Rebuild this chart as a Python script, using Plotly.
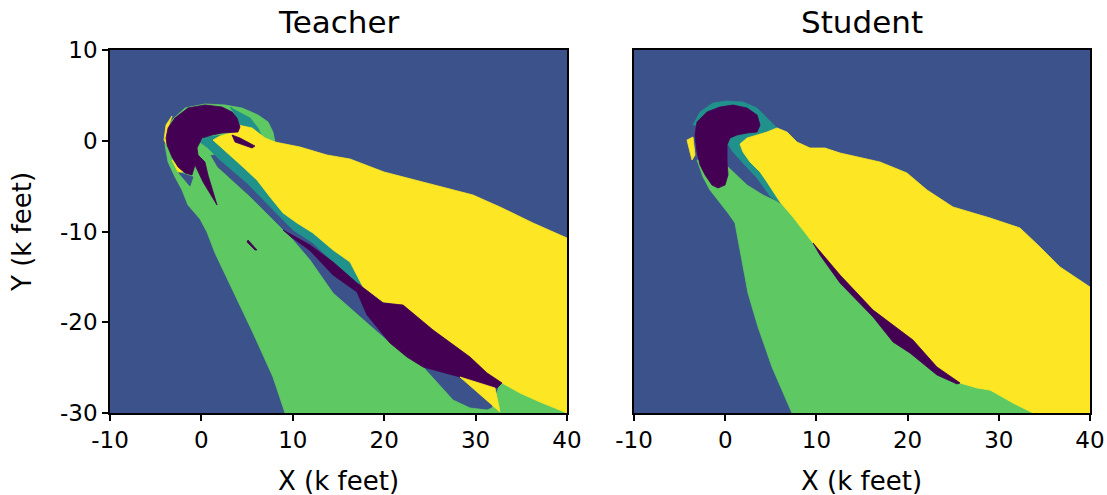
import plotly.graph_objects as go

# ---------------- data (k feet) ----------------
X_TICKS = [-10, 0, 10, 20, 30, 40]
X_TICK_LABELS = ["-10", "0", "10", "20", "30", "40"]
Y_TICKS = [-30, -20, -10, 0, 10]
Y_TICK_LABELS = ["-30", "-20", "-10", "0", "10"]
PANEL_TITLES = ["Teacher", "Student"]

# advisory classes (viridis)
C_PURPLE, C_BLUE, C_TEAL, C_GREEN, C_YELLOW = "#440154", "#3b528b", "#21918c", "#5ec962", "#fde725"

# ---- Teacher regions (polygon outlines) ----
T_GREEN_X = [2.58, 4.44, 6.19, 7.29, 7.83, 8.05, 4.22, 0.94, 1.71, 5.32, 7.51, 10.02, 11.88, 14.40, 18.12,
             20.63, 24.25, 27.53, 29.39, 31.25, 31.79, 32.67, 40, 40, 9.15, 7.83, 5.65, 3.46, 1.49, 0.61,
             -0.15, -1.47, -2.12, -2.89, -3.65, -3.98, -3.87, -3.22, -1.79, 0.39]
T_GREEN_Y = [3.94, 3.61, 2.84, 2.07, 0.96, -0.14, -1.02, -1.57, -2.89, -6.20, -8.40, -10.94, -13.14, -16.78, -20.08,
             -22.29, -24.93, -28.57, -29.45, -29.67, -29.45, -26.69, -26.69, -30, -30, -26.03, -21.18, -16.45, -12.37, -10.06,
             -8.62, -7.08, -5.43, -3.99, -2.34, -0.47, 0.63, 2.29, 3.61, 4.05]

T_BLUE_PATCH_X = [-2.56, -0.92, -1.25]
T_BLUE_PATCH_Y = [-3.44, -3.99, -4.99]

T_TEAL_CRESCENT_X = [3.13, 3.68, 5.32, 6.19, 6.63, 5.32, 4.44, 3.89]
T_TEAL_CRESCENT_Y = [3.72, 3.39, 2.51, 1.41, 0.41, 0.41, 1.41, 2.51]

T_TEAL_STRIP_X = [0.39, 2.58, 19.54, 17.02, 14.40, 12.21, 10.02, 7.18, 4.99, 2.04, 0.72, -0.15]
T_TEAL_STRIP_Y = [0.41, 0.63, -16.45, -15.67, -13.36, -11.27, -9.83, -6.86, -4.66, -2.12, -0.80, -0.14]

T_YELLOW_X = [3.13, 4.00, 5.54, 6.96, 8.05, 10.79, 13.74, 16.26, 19.98, 25.34, 29.72, 32.67, 36.28, 40, 40,
              37.05, 34.86, 32.89, 31.25, 29.39, 25.34, 22.06, 19.87, 17.68, 16.26, 14.40, 12.21, 10.46, 8.93,
              7.51, 6.08, 4.55, 2.80, 1.27, 2.04]
T_YELLOW_Y = [0.85, 1.74, 1.41, 0.30, -0.14, -0.69, -1.57, -2.01, -3.44, -4.88, -5.98, -7.30, -9.06, -10.72, -30,
              -28.79, -27.80, -26.69, -25.59, -23.83, -20.85, -18.10, -17.77, -16.12, -13.36, -12.04, -10.17, -9.06, -7.96,
              -6.20, -4.33, -2.89, -1.35, 0.08, 0.52]

T_YELLOW_RIM_X = [-4.09, -3.87, -3.22, -3.65, -3.76]
T_YELLOW_RIM_Y = [0.08, 1.74, 2.73, 1.41, -0.47]
T_YELLOW_BIT_X = [-3.22, -2.01, -2.56]
T_YELLOW_BIT_Y = [-2.12, -3.44, -3.44]
T_YELLOW_SLIVER_X = [28.29, 32.12, 32.67]
T_YELLOW_SLIVER_Y = [-26.03, -27.24, -29.89]

T_TEAL_SLIVER_X = [3.46, 5.54, 5.32, 3.24]
T_TEAL_SLIVER_Y = [-2.12, -4.10, -4.33, -2.45]

T_PURPLE_CIRCLE_X = [-3.65, -2.89, -1.47, 0.39, 2.25, 3.35, 3.89, 4.22, 4.00, 2.25, 1.16, 0.07, -0.48, -0.37,
                     0.39, 0.72, 1.71, 0.18, -0.70, -1.03, -1.79, -2.56, -3.22, -3.76, -3.87]
T_PURPLE_CIRCLE_Y = [1.41, 2.51, 3.61, 3.94, 3.72, 3.17, 2.51, 1.52, 0.96, 0.85, 0.63, 0.30, -0.80, -1.57,
                     -2.34, -3.77, -7.08, -4.55, -2.67, -3.77, -3.55, -2.89, -1.79, -0.47, 0.30]
T_PURPLE_SPIKE_X = [3.35, 4.22, 5.86, 5.54, 3.68]
T_PURPLE_SPIKE_Y = [0.63, 0.30, -0.58, -0.80, -0.14]
T_PURPLE_STRIP_X = [8.93, 11.88, 14.40, 17.02, 19.87, 22.06, 25.34, 29.39, 31.25, 32.89, 32.34, 28.29,
                    24.25, 22.49, 20.63, 18.12, 17.02, 14.40, 11.88, 9.70]
T_PURPLE_STRIP_Y = [-9.83, -11.49, -13.36, -15.67, -17.88, -18.10, -20.85, -23.83, -25.59, -26.69, -27.24, -26.03,
                    -24.93, -23.83, -22.29, -19.20, -16.67, -14.79, -12.10, -10.50]
T_PURPLE_DOT_X = [5.10, 6.08, 5.86, 4.99]
T_PURPLE_DOT_Y = [-10.94, -12.04, -12.04, -11.16]

# ---- Student regions ----
S_GREEN_X = [-3.09, -1.12, 0.31, 2.39, 4.14, 6.01, 13.68, 34.52, 34.52, 7.32, 5.13, 3.60, 2.50, 1.62, 1.07,
             0.31, -0.79, -1.67, -2.43]
S_GREEN_Y = [-2.12, -2.12, -2.89, -4.88, -5.98, -6.86, -12.04, -26.36, -30, -30, -24.93, -20.52, -16.78, -12.04, -9.06,
             -7.96, -6.53, -5.43, -3.99]

S_TEAL_X = [-3.53, -2.76, -1.34, 0.20, 1.95, 3.49, 4.58, 5.68, 7.11, 6.01, 4.91, 3.49, 1.95, 0.86, 0.31, -0.57]
S_TEAL_Y = [1.74, 3.17, 4.16, 4.38, 4.27, 3.61, 2.51, 1.41, -1.02, -6.86, -6.09, -4.10, -2.45, -1.24, -0.42, 1.74]

S_YELLOW_X = [1.62, 2.39, 3.49, 4.58, 5.68, 6.78, 7.87, 9.30, 10.94, 12.59, 16.97, 19.93, 22.13, 24.98, 29.04,
              32.32, 34.52, 36.71, 40, 40, 33.75, 31.56, 29.04, 27.61, 25.75, 23.22, 20.59, 16.21, 12.59, 9.63,
              7.43, 6.01, 4.58, 3.82, 2.72, 1.95]
S_YELLOW_Y = [-0.36, 0.30, 0.63, 0.96, 1.41, 0.96, -0.14, -0.80, -0.80, -1.35, -2.34, -3.55, -5.43, -7.30, -8.51,
              -9.61, -11.71, -13.91, -16.12, -30, -30, -28.90, -27.47, -27.24, -26.69, -24.93, -21.96, -18.65, -14.79, -11.27,
              -8.40, -6.75, -4.55, -3.44, -2.34, -1.24]

S_YELLOW_RIM_X = [-4.19, -3.53, -3.31, -3.64]
S_YELLOW_RIM_Y = [0.08, 0.41, -1.57, -2.12]

S_PURPLE_BLOB_X = [-3.09, -2.00, -0.57, 0.86, 2.39, 3.49, 3.82, 3.49, 2.39, 1.29, 0.53, 0.20, 0.20, 0.31,
                   -0.02, -0.79, -1.45, -2.21, -2.76, -3.09, -3.31]
S_PURPLE_BLOB_Y = [2.07, 3.17, 3.72, 3.94, 3.61, 2.84, 1.74, 0.96, 0.85, 0.63, 0.30, -0.47, -2.34, -3.77,
                   -4.88, -5.21, -4.88, -3.77, -2.67, -1.24, 0.63]
S_PURPLE_STRIP_X = [9.63, 12.59, 16.21, 20.59, 23.22, 25.75, 25.42, 23.22, 20.26, 18.40, 16.21, 12.59, 10.39]
S_PURPLE_STRIP_Y = [-11.27, -14.79, -18.65, -21.96, -24.93, -26.69, -26.80, -25.81, -23.39, -22.18, -19.42, -15.67, -12.59]

# drawing order (painter's algorithm), per panel
TEACHER_LAYERS = [
    (T_GREEN_X, T_GREEN_Y, C_GREEN),
    (T_BLUE_PATCH_X, T_BLUE_PATCH_Y, C_BLUE),
    (T_TEAL_CRESCENT_X, T_TEAL_CRESCENT_Y, C_TEAL),
    (T_TEAL_STRIP_X, T_TEAL_STRIP_Y, C_TEAL),
    (T_YELLOW_X, T_YELLOW_Y, C_YELLOW),
    (T_YELLOW_RIM_X, T_YELLOW_RIM_Y, C_YELLOW),
    (T_YELLOW_BIT_X, T_YELLOW_BIT_Y, C_YELLOW),
    (T_TEAL_SLIVER_X, T_TEAL_SLIVER_Y, C_TEAL),
    (T_PURPLE_CIRCLE_X, T_PURPLE_CIRCLE_Y, C_PURPLE),
    (T_PURPLE_SPIKE_X, T_PURPLE_SPIKE_Y, C_PURPLE),
    (T_PURPLE_STRIP_X, T_PURPLE_STRIP_Y, C_PURPLE),
    (T_PURPLE_DOT_X, T_PURPLE_DOT_Y, C_PURPLE),
    (T_YELLOW_SLIVER_X, T_YELLOW_SLIVER_Y, C_YELLOW),
]
STUDENT_LAYERS = [
    (S_GREEN_X, S_GREEN_Y, C_GREEN),
    (S_TEAL_X, S_TEAL_Y, C_TEAL),
    (S_YELLOW_X, S_YELLOW_Y, C_YELLOW),
    (S_YELLOW_RIM_X, S_YELLOW_RIM_Y, C_YELLOW),
    (S_PURPLE_BLOB_X, S_PURPLE_BLOB_Y, C_PURPLE),
    (S_PURPLE_STRIP_X, S_PURPLE_STRIP_Y, C_PURPLE),
]

# ---------------- figure ----------------
W, H = 1107, 495
fig = go.Figure()

def add_layers(layers, xa, ya):
    for xs, ys, col in layers:
        fig.add_trace(go.Scatter(
            x=list(xs) + [xs[0]], y=list(ys) + [ys[0]], xaxis=xa, yaxis=ya,
            mode="lines", fill="toself", fillcolor=col,
            line=dict(color=col, width=0.8), hoverinfo="skip", showlegend=False))

add_layers(TEACHER_LAYERS, "x", "y")
add_layers(STUDENT_LAYERS, "x2", "y2")

FONT = "DejaVu Sans"
ax_common = dict(showline=True, mirror=True, linecolor="black", linewidth=1.5, automargin=False,
                 showgrid=False, zeroline=False, ticks="outside", ticklen=6, tickwidth=1.5,
                 tickcolor="black", tickfont=dict(family=FONT, size=23, color="black"))

xd1 = [110 / W, 567 / W]
xd2 = [634 / W, 1090 / W]
yd = [1 - 413 / H, 1 - 50 / H]

fig.update_layout(
    template="none",
    width=W, height=H, margin=dict(l=0, r=0, t=0, b=0, pad=0, autoexpand=False),
    paper_bgcolor="white", plot_bgcolor=C_BLUE,
    xaxis=dict(domain=xd1, range=[-10, 40], tickvals=X_TICKS, ticktext=X_TICK_LABELS, anchor="y", **ax_common),
    yaxis=dict(domain=yd, range=[-30, 10], tickvals=Y_TICKS, ticktext=Y_TICK_LABELS, anchor="x", **ax_common),
    xaxis2=dict(domain=xd2, range=[-10, 40], tickvals=X_TICKS, ticktext=X_TICK_LABELS, anchor="y2", **ax_common),
    yaxis2=dict(domain=yd, range=[-30, 10], anchor="x2",
                **{**ax_common, "ticks": "", "showticklabels": False}),
)

ann = []
for i, t in enumerate(PANEL_TITLES):
    d = xd1 if i == 0 else xd2
    ann.append(dict(text=t, x=(d[0] + d[1]) / 2, y=1 - 22 / H, xref="paper", yref="paper",
                    xanchor="center", yanchor="middle", showarrow=False,
                    font=dict(family=FONT, size=31, color="black")))
    ann.append(dict(text="X (k feet)", x=(d[0] + d[1]) / 2, y=1 - 481 / H, xref="paper", yref="paper",
                    xanchor="center", yanchor="middle", showarrow=False,
                    font=dict(family=FONT, size=26, color="black")))
ann.append(dict(text="Y (k feet)", x=22 / W, y=1 - 232 / H, xref="paper", yref="paper",
                xanchor="center", yanchor="middle", showarrow=False, textangle=-90,
                font=dict(family=FONT, size=26, color="black")))
fig.update_layout(annotations=ann)

fig.write_html("out.html", config={"displayModeBar": False},
               post_script="document.body.style.margin='0';document.body.style.overflow='hidden';")
